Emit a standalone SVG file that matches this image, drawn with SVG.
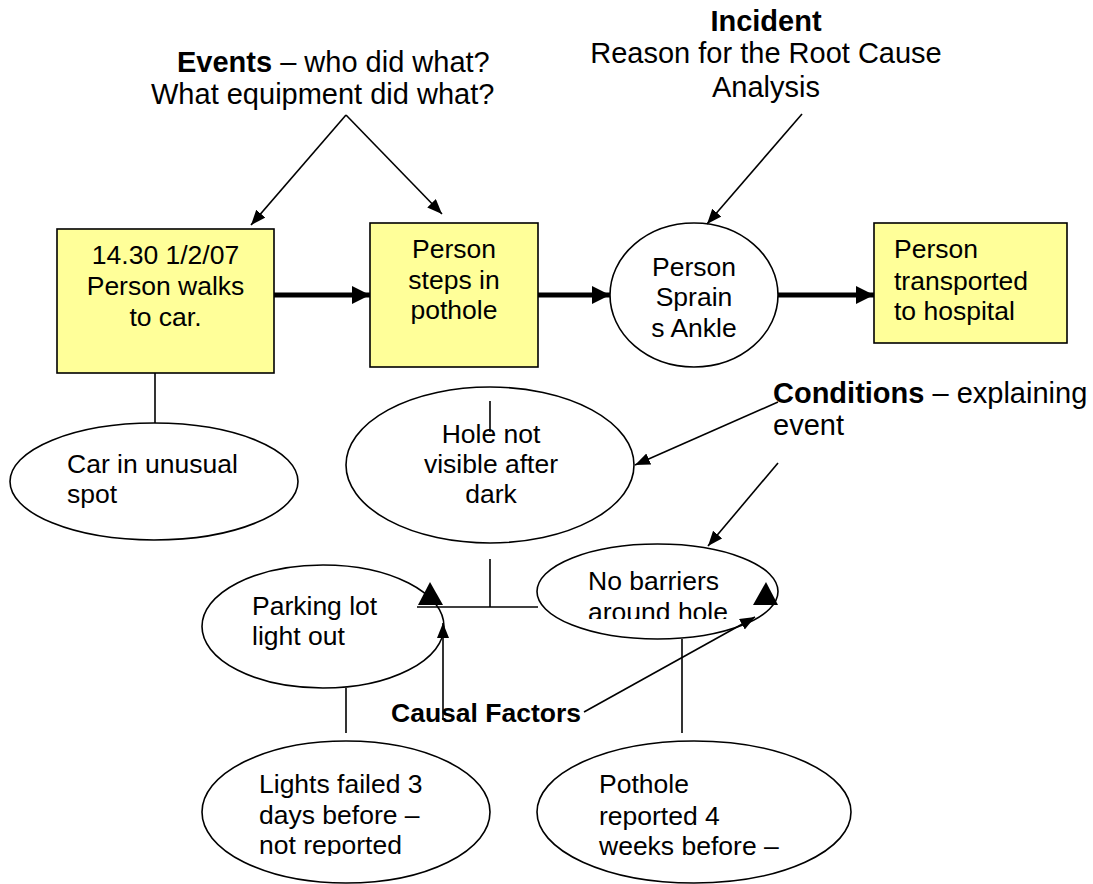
<svg xmlns="http://www.w3.org/2000/svg" width="1093" height="884" viewBox="0 0 1093 884">
<style>
.t{font-family:"Liberation Sans",Arial,sans-serif;font-size:26.5px;fill:#000}
.lab{font-size:29px}
.b{font-weight:bold}
.c{text-anchor:middle}
.box{fill:#FFFF99;stroke:#000;stroke-width:1.6}
.ell{fill:#fff;stroke:#000;stroke-width:1.6}
.ln{stroke:#000;stroke-width:1.6;fill:none}
.thick{stroke:#000;stroke-width:5;fill:none}
</style>
<defs>
<marker id="ah" markerUnits="userSpaceOnUse" markerWidth="16" markerHeight="14" refX="15" refY="6" orient="auto">
<path d="M0,0 L15,6 L0,12 z" fill="#000"/>
</marker>
<marker id="ahT" markerUnits="userSpaceOnUse" markerWidth="20" markerHeight="20" refX="18" refY="9" orient="auto">
<path d="M0,0 L18,9 L0,18 z" fill="#000"/>
</marker>
<clipPath id="clipNB"><rect x="530" y="540" width="260" height="79"/></clipPath>
<clipPath id="clipLF"><rect x="195" y="735" width="300" height="121"/></clipPath>
</defs>
<rect width="1093" height="884" fill="#fff"/>

<g id="label-events">
<text class="t lab" x="177" y="72"><tspan class="b">Events</tspan> – who did what?</text>
<text class="t lab" x="151" y="104">What equipment did what?</text>
</g>
<g id="label-incident">
<text class="t lab b c" x="766" y="31">Incident</text>
<text class="t lab c" x="766" y="63">Reason for the Root Cause</text>
<text class="t lab c" x="766" y="97">Analysis</text>
</g>
<g id="label-conditions">
<text class="t lab" x="773" y="403"><tspan class="b">Conditions</tspan> – explaining</text>
<text class="t lab" x="773" y="435">event</text>
</g>
<g id="label-causal">
<text class="t b" x="391" y="722">Causal Factors</text>
</g>

<g id="node-walks">
<rect class="box" x="57" y="229" width="217" height="144"/>
<text class="t c" x="165.5" y="264">14.30 1/2/07</text>
<text class="t c" x="165.5" y="295">Person walks</text>
<text class="t c" x="165.5" y="326">to car.</text>
</g>
<g id="node-steps">
<rect class="box" x="370" y="223" width="168" height="144"/>
<text class="t c" x="454" y="258">Person</text>
<text class="t c" x="454" y="289">steps in</text>
<text class="t c" x="454" y="319">pothole</text>
</g>
<g id="node-sprain">
<ellipse class="ell" cx="694" cy="295" rx="84" ry="72"/>
<text class="t c" x="694" y="276">Person</text>
<text class="t c" x="694" y="306">Sprain</text>
<text class="t c" x="694" y="337">s Ankle</text>
</g>
<g id="node-hospital">
<rect class="box" x="874" y="223" width="193" height="120"/>
<text class="t" x="894" y="258">Person</text>
<text class="t" x="894" y="290">transported</text>
<text class="t" x="894" y="320">to hospital</text>
</g>
<g id="node-car">
<ellipse class="ell" cx="154" cy="481.5" rx="144" ry="58.5"/>
<text class="t" x="67" y="473">Car in unusual</text>
<text class="t" x="67" y="503">spot</text>
</g>
<g id="node-hole">
<ellipse class="ell" cx="490" cy="465" rx="144" ry="78"/>
<text class="t c" x="491" y="443">Hole not</text>
<text class="t c" x="491" y="473">visible after</text>
<text class="t c" x="491" y="503">dark</text>
</g>
<g id="node-barriers">
<ellipse class="ell" cx="657.5" cy="591.5" rx="120.5" ry="47.5"/>
<g clip-path="url(#clipNB)">
<text class="t" x="588" y="590">No barriers</text>
<text class="t" x="588" y="621">around hole</text>
</g>
</g>
<g id="node-parking">
<ellipse class="ell" cx="323" cy="626.5" rx="121" ry="61.5"/>
<text class="t" x="252" y="615">Parking lot</text>
<text class="t" x="252" y="645">light out</text>
</g>
<g id="node-lights">
<ellipse class="ell" cx="346" cy="812" rx="144" ry="71"/>
<g clip-path="url(#clipLF)">
<text class="t" x="259" y="793">Lights failed 3</text>
<text class="t" x="259" y="824">days before –</text>
<text class="t" x="259" y="854">not reported</text>
</g>
</g>
<g id="node-pothole">
<ellipse class="ell" cx="694" cy="812" rx="157" ry="71"/>
<text class="t" x="599" y="793">Pothole</text>
<text class="t" x="599" y="825">reported 4</text>
<text class="t" x="599" y="855">weeks before –</text>
</g>

<g id="connectors">
<line class="ln" x1="346" y1="115" x2="251" y2="225" marker-end="url(#ah)"/>
<line class="ln" x1="346" y1="115" x2="442" y2="214" marker-end="url(#ah)"/>
<line class="ln" x1="802" y1="114" x2="707" y2="224" marker-end="url(#ah)"/>
<line class="thick" x1="274" y1="295" x2="370" y2="295" marker-end="url(#ahT)"/>
<line class="thick" x1="538" y1="295" x2="610" y2="295" marker-end="url(#ahT)"/>
<line class="thick" x1="778" y1="295" x2="874" y2="295" marker-end="url(#ahT)"/>
<line class="ln" x1="155" y1="373" x2="155" y2="423"/>
<line class="ln" x1="490" y1="401" x2="490" y2="432"/>
<line class="ln" x1="778" y1="402" x2="635" y2="465" marker-end="url(#ah)"/>
<line class="ln" x1="778" y1="463" x2="708" y2="546" marker-end="url(#ah)"/>
<line class="ln" x1="490" y1="559" x2="490" y2="607"/>
<line class="ln" x1="417" y1="607" x2="538" y2="607"/>
<polygon points="430,582 418,605 443,605" fill="#000"/>
<polygon points="766,582 753,605 778,605" fill="#000"/>
<line class="ln" x1="443" y1="720" x2="443" y2="623" marker-end="url(#ah)"/>
<line class="ln" x1="584" y1="712" x2="755" y2="617" marker-end="url(#ah)"/>
<line class="ln" x1="346" y1="688" x2="346" y2="733"/>
<line class="ln" x1="682" y1="639" x2="682" y2="733"/>
</g>
</svg>
